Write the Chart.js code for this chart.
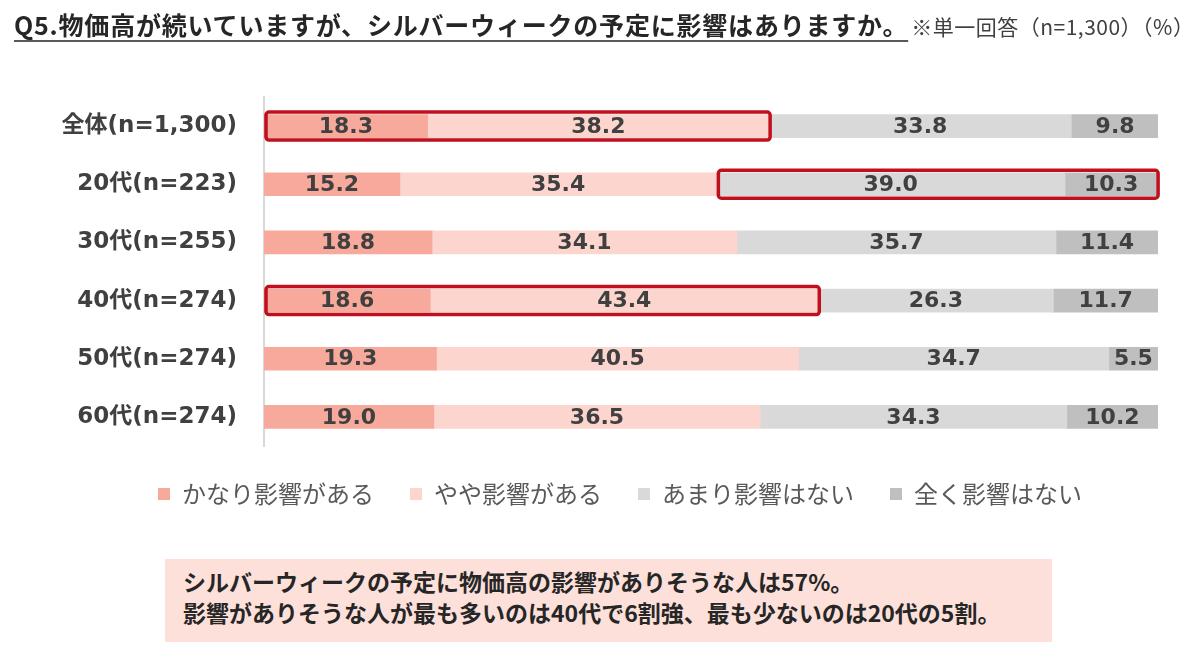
<!DOCTYPE html>
<html>
<head>
<meta charset="utf-8">
<script src="https://cdn.jsdelivr.net/npm/chart.js@4.4.1/dist/chart.umd.min.js"></script>
<style>
  html, body { margin: 0; padding: 0; background: #ffffff; }
  body { width: 1200px; height: 658px; position: relative; overflow: hidden; font-family: "Noto Sans CJK JP", "Noto Sans", sans-serif; }
  #wrap { position: absolute; left: 0; top: 0; width: 1200px; height: 658px; }
  #title { position: absolute; left: 14px; top: 6px; white-space: nowrap; color: #262626; }
  #title .main { font-size: 25px; font-weight: bold; letter-spacing: 0.8px; text-decoration: underline; text-decoration-thickness: 2px; text-underline-offset: 5px; text-decoration-color: #595959; }
  #title .sub { font-size: 21px; font-weight: normal; color: #404040; margin-left: 3px; letter-spacing: 0.5px; }
  #note { position: absolute; left: 165px; top: 559px; width: 887px; height: 83px; background: #fde0da; box-sizing: border-box; padding: 7px 0 0 18px; color: #262626; font-weight: bold; font-size: 23px; line-height: 31px; white-space: nowrap; }
</style>
</head>
<body>
<div id="wrap"><canvas id="c" width="1200" height="658"></canvas></div>
<div id="title"><span class="main">Q5.物価高が続いていますが、シルバーウィークの予定に影響はありますか。</span><span class="sub">※単一回答（n=1,300）（%）</span></div>
<div id="note">シルバーウィークの予定に物価高の影響がありそうな人は57%。<br>影響がありそうな人が最も多いのは40代で6割強、最も少ないのは20代の5割。</div>
<script>
const categories = ["全体(n=1,300)", "20代(n=223)", "30代(n=255)", "40代(n=274)", "50代(n=274)", "60代(n=274)"];
const seriesNames = ["かなり影響がある", "やや影響がある", "あまり影響はない", "全く影響はない"];
const seriesStrong = [18.3, 15.2, 18.8, 18.6, 19.3, 19.0];
const seriesSome   = [38.2, 35.4, 34.1, 43.4, 40.5, 36.5];
const seriesLittle = [33.8, 39.0, 35.7, 26.3, 34.7, 34.3];
const seriesNone   = [9.8, 10.3, 11.4, 11.7, 5.5, 10.2];
const seriesColors = ["#f7a99b", "#fdd5cf", "#d9d9d9", "#bfbfbf"];
// highlighted boxes: [category index, first series index, last series index]
const highlights = [[0, 0, 1], [1, 2, 3], [3, 0, 1]];

const allSeries = [seriesStrong, seriesSome, seriesLittle, seriesNone];

const labelPlugin = {
  id: 'segLabels',
  afterDatasetsDraw(chart) {
    const ctx = chart.ctx;
    ctx.save();
    ctx.font = 'bold 22px "DejaVu Sans", "Noto Sans CJK JP", sans-serif';
    ctx.fillStyle = '#404040';
    ctx.textAlign = 'center';
    ctx.textBaseline = 'middle';
    chart.data.datasets.forEach((ds, di) => {
      const meta = chart.getDatasetMeta(di);
      meta.data.forEach((bar, i) => {
        const cx = (bar.x + bar.base) / 2;
        ctx.fillText(ds.data[i].toFixed(1), cx, bar.y + 1);
      });
    });
    ctx.restore();
  }
};

const highlightPlugin = {
  id: 'highlightBoxes',
  afterDraw(chart) {
    const ctx = chart.ctx;
    ctx.save();
    ctx.strokeStyle = '#c0101e';
    ctx.lineWidth = 3.5;
    highlights.forEach(([row, from, to]) => {
      const b0 = chart.getDatasetMeta(from).data[row];
      const b1 = chart.getDatasetMeta(to).data[row];
      const left = Math.min(b0.base, b0.x) + 2;
      const right = Math.max(b1.x, b1.base) + 1;
      const h = b0.height;
      const top = b0.y - h / 2 - 2.5;
      const bottom = b0.y + h / 2 + 2.5;
      ctx.beginPath();
      if (ctx.roundRect) ctx.roundRect(left, top, right - left, bottom - top, 3);
      else ctx.rect(left, top, right - left, bottom - top);
      ctx.stroke();
    });
    ctx.restore();
  }
};

// shift the centred legend so that it sits where the reference has it
const legendShift = {
  id: 'legendShift',
  afterLayout(chart) {
    const lg = chart.legend;
    if (lg) { lg.left += 41; lg.right += 41; }
  }
};

new Chart(document.getElementById('c'), {
  type: 'bar',
  data: {
    labels: categories,
    datasets: allSeries.map((d, i) => ({
      label: seriesNames[i],
      data: d,
      backgroundColor: seriesColors[i],
      borderWidth: 0,
      barThickness: 23
    }))
  },
  options: {
    indexAxis: 'y',
    responsive: false,
    animation: false,
    devicePixelRatio: 1,
    layout: { padding: { left: 0, right: 42, top: 97, bottom: 142 } },
    scales: {
      x: { stacked: true, min: 0, max: 100, display: false },
      y: {
        stacked: true,
        grid: { display: false, drawTicks: false },
        border: { display: true, color: '#d9d9d9', width: 2 },
        ticks: {
          padding: 27,
          color: '#404040',
          font: { family: '"DejaVu Sans", "Noto Sans CJK JP", sans-serif', size: 23, weight: 'bold' }
        },
        afterFit(scale) { scale.width = 264; }
      }
    },
    plugins: {
      tooltip: { enabled: false },
      legend: {
        position: 'bottom',
        labels: {
          boxWidth: 12,
          boxHeight: 12,
          padding: 36,
          color: '#595959',
          font: { family: '"Noto Sans CJK JP", sans-serif', size: 24 }
        }
      }
    }
  },
  plugins: [labelPlugin, highlightPlugin, legendShift]
});
</script>
</body>
</html>
